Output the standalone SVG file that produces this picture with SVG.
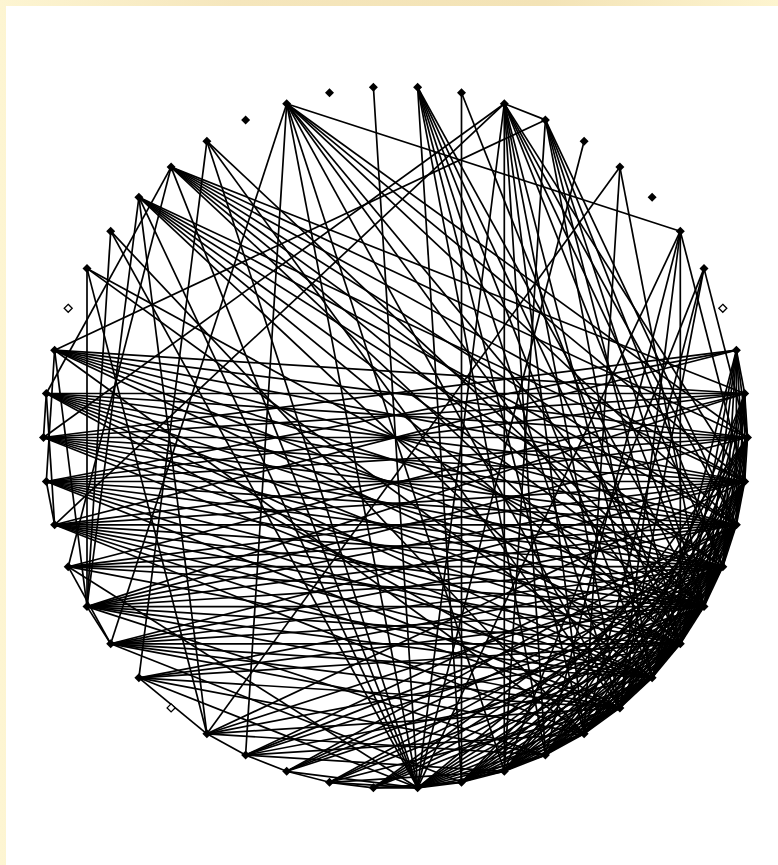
<svg xmlns="http://www.w3.org/2000/svg" width="778" height="865" viewBox="0 0 778 865">
<defs>
<linearGradient id="bg" x1="0" y1="0" x2="1" y2="0">
<stop offset="0" stop-color="#fdf5d2"/>
<stop offset="0.3" stop-color="#f5e6bc"/>
<stop offset="0.7" stop-color="#f3e3b6"/>
<stop offset="1" stop-color="#fdf4cf"/>
</linearGradient>
<style>
#edges line{stroke:#000;stroke-width:1.7;fill:none}
.d{fill:#000}
.h{fill:#fff;stroke:#000;stroke-width:1.3}
</style>
</defs>
<rect width="778" height="865" fill="url(#bg)"/>
<rect x="6" y="6" width="772" height="859" fill="#fff"/>
<g id="edges">
<line x1="373.4" y1="87.2" x2="417.6" y2="787.8"/>
<line x1="286.7" y1="103.7" x2="680.3" y2="231.2"/>
<line x1="286.7" y1="103.7" x2="747.5" y2="437.5"/>
<line x1="286.7" y1="103.7" x2="680.3" y2="643.8"/>
<line x1="286.7" y1="103.7" x2="504.3" y2="771.3"/>
<line x1="286.7" y1="103.7" x2="417.6" y2="787.8"/>
<line x1="286.7" y1="103.7" x2="245.6" y2="755.1"/>
<line x1="286.7" y1="103.7" x2="110.7" y2="643.8"/>
<line x1="286.7" y1="103.7" x2="736.4" y2="524.8"/>
<line x1="286.7" y1="103.7" x2="744.7" y2="481.5"/>
<line x1="286.7" y1="103.7" x2="704.0" y2="606.6"/>
<line x1="286.7" y1="103.7" x2="619.9" y2="707.9"/>
<line x1="417.6" y1="87.2" x2="704.0" y2="606.6"/>
<line x1="417.6" y1="87.2" x2="680.3" y2="643.8"/>
<line x1="417.6" y1="87.2" x2="652.1" y2="677.8"/>
<line x1="417.6" y1="87.2" x2="619.9" y2="707.9"/>
<line x1="417.6" y1="87.2" x2="584.1" y2="733.8"/>
<line x1="417.6" y1="87.2" x2="545.4" y2="755.1"/>
<line x1="417.6" y1="87.2" x2="461.5" y2="782.3"/>
<line x1="461.5" y1="92.7" x2="680.3" y2="643.8"/>
<line x1="461.5" y1="92.7" x2="461.5" y2="782.3"/>
<line x1="504.3" y1="103.7" x2="545.4" y2="119.9"/>
<line x1="504.3" y1="103.7" x2="744.7" y2="481.5"/>
<line x1="504.3" y1="103.7" x2="736.4" y2="524.8"/>
<line x1="504.3" y1="103.7" x2="722.8" y2="566.7"/>
<line x1="504.3" y1="103.7" x2="704.0" y2="606.6"/>
<line x1="504.3" y1="103.7" x2="652.1" y2="677.8"/>
<line x1="504.3" y1="103.7" x2="619.9" y2="707.9"/>
<line x1="504.3" y1="103.7" x2="584.1" y2="733.8"/>
<line x1="504.3" y1="103.7" x2="545.4" y2="755.1"/>
<line x1="504.3" y1="103.7" x2="504.3" y2="771.3"/>
<line x1="504.3" y1="103.7" x2="417.6" y2="787.8"/>
<line x1="504.3" y1="103.7" x2="54.6" y2="524.8"/>
<line x1="504.3" y1="103.7" x2="43.5" y2="437.5"/>
<line x1="545.4" y1="119.9" x2="736.4" y2="524.8"/>
<line x1="545.4" y1="119.9" x2="722.8" y2="566.7"/>
<line x1="545.4" y1="119.9" x2="704.0" y2="606.6"/>
<line x1="545.4" y1="119.9" x2="680.3" y2="643.8"/>
<line x1="545.4" y1="119.9" x2="652.1" y2="677.8"/>
<line x1="545.4" y1="119.9" x2="504.3" y2="771.3"/>
<line x1="545.4" y1="119.9" x2="54.6" y2="350.2"/>
<line x1="584.1" y1="141.2" x2="417.6" y2="787.8"/>
<line x1="619.9" y1="167.1" x2="704.0" y2="606.6"/>
<line x1="619.9" y1="167.1" x2="206.9" y2="733.8"/>
<line x1="619.9" y1="167.1" x2="584.1" y2="733.8"/>
<line x1="680.3" y1="231.2" x2="744.7" y2="481.5"/>
<line x1="680.3" y1="231.2" x2="680.3" y2="643.8"/>
<line x1="680.3" y1="231.2" x2="619.9" y2="707.9"/>
<line x1="680.3" y1="231.2" x2="545.4" y2="755.1"/>
<line x1="680.3" y1="231.2" x2="417.6" y2="787.8"/>
<line x1="704.0" y1="268.4" x2="747.5" y2="437.5"/>
<line x1="704.0" y1="268.4" x2="619.9" y2="707.9"/>
<line x1="704.0" y1="268.4" x2="584.1" y2="733.8"/>
<line x1="704.0" y1="268.4" x2="504.3" y2="771.3"/>
<line x1="736.4" y1="350.2" x2="744.7" y2="393.5"/>
<line x1="736.4" y1="350.2" x2="747.5" y2="437.5"/>
<line x1="736.4" y1="350.2" x2="744.7" y2="481.5"/>
<line x1="736.4" y1="350.2" x2="736.4" y2="524.8"/>
<line x1="736.4" y1="350.2" x2="722.8" y2="566.7"/>
<line x1="736.4" y1="350.2" x2="680.3" y2="643.8"/>
<line x1="736.4" y1="350.2" x2="652.1" y2="677.8"/>
<line x1="736.4" y1="350.2" x2="704.0" y2="606.6"/>
<line x1="736.4" y1="350.2" x2="54.6" y2="524.8"/>
<line x1="736.4" y1="350.2" x2="43.5" y2="437.5"/>
<line x1="736.4" y1="350.2" x2="46.3" y2="481.5"/>
<line x1="744.7" y1="393.5" x2="747.5" y2="437.5"/>
<line x1="744.7" y1="393.5" x2="46.3" y2="393.5"/>
<line x1="744.7" y1="393.5" x2="171.1" y2="167.1"/>
<line x1="744.7" y1="393.5" x2="43.5" y2="437.5"/>
<line x1="744.7" y1="393.5" x2="744.7" y2="481.5"/>
<line x1="744.7" y1="393.5" x2="736.4" y2="524.8"/>
<line x1="744.7" y1="393.5" x2="722.8" y2="566.7"/>
<line x1="744.7" y1="393.5" x2="704.0" y2="606.6"/>
<line x1="744.7" y1="393.5" x2="680.3" y2="643.8"/>
<line x1="744.7" y1="393.5" x2="652.1" y2="677.8"/>
<line x1="744.7" y1="393.5" x2="619.9" y2="707.9"/>
<line x1="744.7" y1="393.5" x2="68.2" y2="566.7"/>
<line x1="744.7" y1="393.5" x2="87.0" y2="606.6"/>
<line x1="206.9" y1="141.2" x2="138.9" y2="677.8"/>
<line x1="206.9" y1="141.2" x2="704.0" y2="606.6"/>
<line x1="206.9" y1="141.2" x2="619.9" y2="707.9"/>
<line x1="206.9" y1="141.2" x2="417.6" y2="787.8"/>
<line x1="171.1" y1="167.1" x2="747.5" y2="437.5"/>
<line x1="171.1" y1="167.1" x2="744.7" y2="481.5"/>
<line x1="171.1" y1="167.1" x2="736.4" y2="524.8"/>
<line x1="171.1" y1="167.1" x2="722.8" y2="566.7"/>
<line x1="171.1" y1="167.1" x2="704.0" y2="606.6"/>
<line x1="171.1" y1="167.1" x2="680.3" y2="643.8"/>
<line x1="171.1" y1="167.1" x2="68.2" y2="566.7"/>
<line x1="171.1" y1="167.1" x2="417.6" y2="787.8"/>
<line x1="138.9" y1="197.2" x2="744.7" y2="481.5"/>
<line x1="138.9" y1="197.2" x2="736.4" y2="524.8"/>
<line x1="138.9" y1="197.2" x2="722.8" y2="566.7"/>
<line x1="138.9" y1="197.2" x2="704.0" y2="606.6"/>
<line x1="138.9" y1="197.2" x2="680.3" y2="643.8"/>
<line x1="138.9" y1="197.2" x2="652.1" y2="677.8"/>
<line x1="138.9" y1="197.2" x2="206.9" y2="733.8"/>
<line x1="138.9" y1="197.2" x2="87.0" y2="606.6"/>
<line x1="138.9" y1="197.2" x2="417.6" y2="787.8"/>
<line x1="110.7" y1="231.2" x2="417.6" y2="787.8"/>
<line x1="110.7" y1="231.2" x2="584.1" y2="733.8"/>
<line x1="110.7" y1="231.2" x2="87.0" y2="606.6"/>
<line x1="87.0" y1="268.4" x2="704.0" y2="606.6"/>
<line x1="87.0" y1="268.4" x2="652.1" y2="677.8"/>
<line x1="87.0" y1="268.4" x2="87.0" y2="606.6"/>
<line x1="87.0" y1="268.4" x2="206.9" y2="733.8"/>
<line x1="54.6" y1="350.2" x2="744.7" y2="393.5"/>
<line x1="54.6" y1="350.2" x2="747.5" y2="437.5"/>
<line x1="54.6" y1="350.2" x2="744.7" y2="481.5"/>
<line x1="54.6" y1="350.2" x2="736.4" y2="524.8"/>
<line x1="54.6" y1="350.2" x2="722.8" y2="566.7"/>
<line x1="54.6" y1="350.2" x2="704.0" y2="606.6"/>
<line x1="54.6" y1="350.2" x2="680.3" y2="643.8"/>
<line x1="54.6" y1="350.2" x2="87.0" y2="606.6"/>
<line x1="54.6" y1="350.2" x2="584.1" y2="733.8"/>
<line x1="54.6" y1="350.2" x2="46.3" y2="481.5"/>
<line x1="46.3" y1="393.5" x2="747.5" y2="437.5"/>
<line x1="46.3" y1="393.5" x2="744.7" y2="481.5"/>
<line x1="46.3" y1="393.5" x2="736.4" y2="524.8"/>
<line x1="46.3" y1="393.5" x2="722.8" y2="566.7"/>
<line x1="46.3" y1="393.5" x2="704.0" y2="606.6"/>
<line x1="46.3" y1="393.5" x2="680.3" y2="643.8"/>
<line x1="46.3" y1="393.5" x2="652.1" y2="677.8"/>
<line x1="46.3" y1="393.5" x2="619.9" y2="707.9"/>
<line x1="46.3" y1="393.5" x2="54.6" y2="524.8"/>
<line x1="46.3" y1="393.5" x2="171.1" y2="167.1"/>
<line x1="43.5" y1="437.5" x2="747.5" y2="437.5"/>
<line x1="43.5" y1="437.5" x2="744.7" y2="481.5"/>
<line x1="43.5" y1="437.5" x2="736.4" y2="524.8"/>
<line x1="43.5" y1="437.5" x2="722.8" y2="566.7"/>
<line x1="43.5" y1="437.5" x2="704.0" y2="606.6"/>
<line x1="43.5" y1="437.5" x2="680.3" y2="643.8"/>
<line x1="43.5" y1="437.5" x2="652.1" y2="677.8"/>
<line x1="43.5" y1="437.5" x2="46.3" y2="393.5"/>
<line x1="46.3" y1="481.5" x2="744.7" y2="393.5"/>
<line x1="46.3" y1="481.5" x2="747.5" y2="437.5"/>
<line x1="46.3" y1="481.5" x2="744.7" y2="481.5"/>
<line x1="46.3" y1="481.5" x2="736.4" y2="524.8"/>
<line x1="46.3" y1="481.5" x2="722.8" y2="566.7"/>
<line x1="46.3" y1="481.5" x2="704.0" y2="606.6"/>
<line x1="46.3" y1="481.5" x2="680.3" y2="643.8"/>
<line x1="46.3" y1="481.5" x2="652.1" y2="677.8"/>
<line x1="46.3" y1="481.5" x2="619.9" y2="707.9"/>
<line x1="46.3" y1="481.5" x2="54.6" y2="524.8"/>
<line x1="54.6" y1="524.8" x2="747.5" y2="437.5"/>
<line x1="54.6" y1="524.8" x2="744.7" y2="481.5"/>
<line x1="54.6" y1="524.8" x2="736.4" y2="524.8"/>
<line x1="54.6" y1="524.8" x2="722.8" y2="566.7"/>
<line x1="54.6" y1="524.8" x2="704.0" y2="606.6"/>
<line x1="54.6" y1="524.8" x2="680.3" y2="643.8"/>
<line x1="54.6" y1="524.8" x2="652.1" y2="677.8"/>
<line x1="54.6" y1="524.8" x2="619.9" y2="707.9"/>
<line x1="54.6" y1="524.8" x2="584.1" y2="733.8"/>
<line x1="68.2" y1="566.7" x2="744.7" y2="481.5"/>
<line x1="68.2" y1="566.7" x2="736.4" y2="524.8"/>
<line x1="68.2" y1="566.7" x2="722.8" y2="566.7"/>
<line x1="68.2" y1="566.7" x2="704.0" y2="606.6"/>
<line x1="68.2" y1="566.7" x2="652.1" y2="677.8"/>
<line x1="68.2" y1="566.7" x2="417.6" y2="787.8"/>
<line x1="87.0" y1="606.6" x2="747.5" y2="437.5"/>
<line x1="87.0" y1="606.6" x2="744.7" y2="481.5"/>
<line x1="87.0" y1="606.6" x2="736.4" y2="524.8"/>
<line x1="87.0" y1="606.6" x2="722.8" y2="566.7"/>
<line x1="87.0" y1="606.6" x2="704.0" y2="606.6"/>
<line x1="87.0" y1="606.6" x2="680.3" y2="643.8"/>
<line x1="87.0" y1="606.6" x2="652.1" y2="677.8"/>
<line x1="87.0" y1="606.6" x2="619.9" y2="707.9"/>
<line x1="87.0" y1="606.6" x2="545.4" y2="755.1"/>
<line x1="110.7" y1="643.8" x2="744.7" y2="481.5"/>
<line x1="110.7" y1="643.8" x2="736.4" y2="524.8"/>
<line x1="110.7" y1="643.8" x2="722.8" y2="566.7"/>
<line x1="110.7" y1="643.8" x2="704.0" y2="606.6"/>
<line x1="110.7" y1="643.8" x2="680.3" y2="643.8"/>
<line x1="110.7" y1="643.8" x2="652.1" y2="677.8"/>
<line x1="110.7" y1="643.8" x2="619.9" y2="707.9"/>
<line x1="110.7" y1="643.8" x2="584.1" y2="733.8"/>
<line x1="110.7" y1="643.8" x2="461.5" y2="782.3"/>
<line x1="110.7" y1="643.8" x2="68.2" y2="566.7"/>
<line x1="110.7" y1="643.8" x2="87.0" y2="606.6"/>
<line x1="138.9" y1="677.8" x2="206.9" y2="733.8"/>
<line x1="138.9" y1="677.8" x2="417.6" y2="787.8"/>
<line x1="138.9" y1="677.8" x2="722.8" y2="566.7"/>
<line x1="138.9" y1="677.8" x2="704.0" y2="606.6"/>
<line x1="138.9" y1="677.8" x2="680.3" y2="643.8"/>
<line x1="138.9" y1="677.8" x2="619.9" y2="707.9"/>
<line x1="138.9" y1="677.8" x2="545.4" y2="755.1"/>
<line x1="206.9" y1="733.8" x2="744.7" y2="481.5"/>
<line x1="206.9" y1="733.8" x2="722.8" y2="566.7"/>
<line x1="206.9" y1="733.8" x2="680.3" y2="643.8"/>
<line x1="206.9" y1="733.8" x2="619.9" y2="707.9"/>
<line x1="206.9" y1="733.8" x2="245.6" y2="755.1"/>
<line x1="206.9" y1="733.8" x2="545.4" y2="755.1"/>
<line x1="245.6" y1="755.1" x2="736.4" y2="524.8"/>
<line x1="245.6" y1="755.1" x2="722.8" y2="566.7"/>
<line x1="245.6" y1="755.1" x2="704.0" y2="606.6"/>
<line x1="245.6" y1="755.1" x2="652.1" y2="677.8"/>
<line x1="245.6" y1="755.1" x2="584.1" y2="733.8"/>
<line x1="245.6" y1="755.1" x2="286.7" y2="771.3"/>
<line x1="245.6" y1="755.1" x2="504.3" y2="771.3"/>
<line x1="286.7" y1="771.3" x2="736.4" y2="524.8"/>
<line x1="286.7" y1="771.3" x2="722.8" y2="566.7"/>
<line x1="286.7" y1="771.3" x2="704.0" y2="606.6"/>
<line x1="286.7" y1="771.3" x2="680.3" y2="643.8"/>
<line x1="286.7" y1="771.3" x2="417.6" y2="787.8"/>
<line x1="286.7" y1="771.3" x2="329.5" y2="782.3"/>
<line x1="329.5" y1="782.3" x2="722.8" y2="566.7"/>
<line x1="329.5" y1="782.3" x2="704.0" y2="606.6"/>
<line x1="329.5" y1="782.3" x2="680.3" y2="643.8"/>
<line x1="329.5" y1="782.3" x2="619.9" y2="707.9"/>
<line x1="329.5" y1="782.3" x2="417.6" y2="787.8"/>
<line x1="329.5" y1="782.3" x2="373.4" y2="787.8"/>
<line x1="329.5" y1="782.3" x2="504.3" y2="771.3"/>
<line x1="373.4" y1="787.8" x2="417.6" y2="787.8"/>
<line x1="373.4" y1="787.8" x2="461.5" y2="782.3"/>
<line x1="373.4" y1="787.8" x2="736.4" y2="524.8"/>
<line x1="373.4" y1="787.8" x2="722.8" y2="566.7"/>
<line x1="373.4" y1="787.8" x2="704.0" y2="606.6"/>
<line x1="373.4" y1="787.8" x2="680.3" y2="643.8"/>
<line x1="373.4" y1="787.8" x2="652.1" y2="677.8"/>
<line x1="461.5" y1="782.3" x2="744.7" y2="481.5"/>
<line x1="461.5" y1="782.3" x2="736.4" y2="524.8"/>
<line x1="504.3" y1="771.3" x2="744.7" y2="481.5"/>
<line x1="504.3" y1="771.3" x2="747.5" y2="437.5"/>
<line x1="545.4" y1="755.1" x2="747.5" y2="437.5"/>
<line x1="417.6" y1="787.8" x2="736.4" y2="524.8"/>
<line x1="417.6" y1="787.8" x2="722.8" y2="566.7"/>
<line x1="747.5" y1="437.5" x2="744.7" y2="481.5"/>
<line x1="747.5" y1="437.5" x2="736.4" y2="524.8"/>
<line x1="747.5" y1="437.5" x2="722.8" y2="566.7"/>
<line x1="747.5" y1="437.5" x2="704.0" y2="606.6"/>
<line x1="747.5" y1="437.5" x2="680.3" y2="643.8"/>
<line x1="747.5" y1="437.5" x2="652.1" y2="677.8"/>
<line x1="747.5" y1="437.5" x2="619.9" y2="707.9"/>
<line x1="747.5" y1="437.5" x2="584.1" y2="733.8"/>
<line x1="744.7" y1="481.5" x2="736.4" y2="524.8"/>
<line x1="744.7" y1="481.5" x2="722.8" y2="566.7"/>
<line x1="744.7" y1="481.5" x2="704.0" y2="606.6"/>
<line x1="744.7" y1="481.5" x2="680.3" y2="643.8"/>
<line x1="744.7" y1="481.5" x2="652.1" y2="677.8"/>
<line x1="744.7" y1="481.5" x2="619.9" y2="707.9"/>
<line x1="744.7" y1="481.5" x2="584.1" y2="733.8"/>
<line x1="744.7" y1="481.5" x2="545.4" y2="755.1"/>
<line x1="736.4" y1="524.8" x2="722.8" y2="566.7"/>
<line x1="736.4" y1="524.8" x2="704.0" y2="606.6"/>
<line x1="736.4" y1="524.8" x2="680.3" y2="643.8"/>
<line x1="736.4" y1="524.8" x2="652.1" y2="677.8"/>
<line x1="736.4" y1="524.8" x2="619.9" y2="707.9"/>
<line x1="736.4" y1="524.8" x2="584.1" y2="733.8"/>
<line x1="736.4" y1="524.8" x2="545.4" y2="755.1"/>
<line x1="736.4" y1="524.8" x2="504.3" y2="771.3"/>
<line x1="722.8" y1="566.7" x2="704.0" y2="606.6"/>
<line x1="722.8" y1="566.7" x2="680.3" y2="643.8"/>
<line x1="722.8" y1="566.7" x2="652.1" y2="677.8"/>
<line x1="722.8" y1="566.7" x2="619.9" y2="707.9"/>
<line x1="722.8" y1="566.7" x2="584.1" y2="733.8"/>
<line x1="722.8" y1="566.7" x2="545.4" y2="755.1"/>
<line x1="722.8" y1="566.7" x2="504.3" y2="771.3"/>
<line x1="722.8" y1="566.7" x2="461.5" y2="782.3"/>
<line x1="704.0" y1="606.6" x2="680.3" y2="643.8"/>
<line x1="704.0" y1="606.6" x2="652.1" y2="677.8"/>
<line x1="704.0" y1="606.6" x2="619.9" y2="707.9"/>
<line x1="704.0" y1="606.6" x2="584.1" y2="733.8"/>
<line x1="704.0" y1="606.6" x2="545.4" y2="755.1"/>
<line x1="704.0" y1="606.6" x2="504.3" y2="771.3"/>
<line x1="704.0" y1="606.6" x2="461.5" y2="782.3"/>
<line x1="704.0" y1="606.6" x2="417.6" y2="787.8"/>
<line x1="680.3" y1="643.8" x2="652.1" y2="677.8"/>
<line x1="680.3" y1="643.8" x2="619.9" y2="707.9"/>
<line x1="680.3" y1="643.8" x2="584.1" y2="733.8"/>
<line x1="680.3" y1="643.8" x2="545.4" y2="755.1"/>
<line x1="680.3" y1="643.8" x2="504.3" y2="771.3"/>
<line x1="680.3" y1="643.8" x2="461.5" y2="782.3"/>
<line x1="680.3" y1="643.8" x2="417.6" y2="787.8"/>
<line x1="652.1" y1="677.8" x2="619.9" y2="707.9"/>
<line x1="652.1" y1="677.8" x2="584.1" y2="733.8"/>
<line x1="652.1" y1="677.8" x2="545.4" y2="755.1"/>
<line x1="652.1" y1="677.8" x2="504.3" y2="771.3"/>
<line x1="652.1" y1="677.8" x2="461.5" y2="782.3"/>
<line x1="652.1" y1="677.8" x2="417.6" y2="787.8"/>
<line x1="619.9" y1="707.9" x2="584.1" y2="733.8"/>
<line x1="619.9" y1="707.9" x2="545.4" y2="755.1"/>
<line x1="619.9" y1="707.9" x2="504.3" y2="771.3"/>
<line x1="619.9" y1="707.9" x2="461.5" y2="782.3"/>
<line x1="619.9" y1="707.9" x2="417.6" y2="787.8"/>
<line x1="584.1" y1="733.8" x2="545.4" y2="755.1"/>
<line x1="584.1" y1="733.8" x2="504.3" y2="771.3"/>
<line x1="584.1" y1="733.8" x2="461.5" y2="782.3"/>
<line x1="584.1" y1="733.8" x2="417.6" y2="787.8"/>
<line x1="545.4" y1="755.1" x2="504.3" y2="771.3"/>
<line x1="545.4" y1="755.1" x2="461.5" y2="782.3"/>
<line x1="545.4" y1="755.1" x2="417.6" y2="787.8"/>
<line x1="504.3" y1="771.3" x2="461.5" y2="782.3"/>
<line x1="504.3" y1="771.3" x2="417.6" y2="787.8"/>
<line x1="461.5" y1="782.3" x2="417.6" y2="787.8"/>
</g>
<g id="nodes">
<g id="n0"><path class="d" d="M417.6 82.7l4.5 4.5-4.5 4.5-4.5-4.5z"/></g>
<g id="n1"><path class="d" d="M461.5 88.2l4.5 4.5-4.5 4.5-4.5-4.5z"/></g>
<g id="n2"><path class="d" d="M504.3 99.2l4.5 4.5-4.5 4.5-4.5-4.5z"/></g>
<g id="n3"><path class="d" d="M545.4 115.4l4.5 4.5-4.5 4.5-4.5-4.5z"/></g>
<g id="n4"><path class="d" d="M584.1 136.7l4.5 4.5-4.5 4.5-4.5-4.5z"/></g>
<g id="n5"><path class="d" d="M619.9 162.6l4.5 4.5-4.5 4.5-4.5-4.5z"/></g>
<g id="n6"><path class="d" d="M652.1 192.7l4.5 4.5-4.5 4.5-4.5-4.5z"/></g>
<g id="n7"><path class="d" d="M680.3 226.7l4.5 4.5-4.5 4.5-4.5-4.5z"/></g>
<g id="n8"><path class="d" d="M704.0 263.9l4.5 4.5-4.5 4.5-4.5-4.5z"/></g>
<g id="n9"><path class="h" d="M722.8 304.3l4 4-4 4-4-4z"/></g>
<g id="n10"><path class="d" d="M736.4 345.7l4.5 4.5-4.5 4.5-4.5-4.5z"/></g>
<g id="n11"><path class="d" d="M744.7 389.0l4.5 4.5-4.5 4.5-4.5-4.5z"/></g>
<g id="n12"><path class="d" d="M747.5 433.0l4.5 4.5-4.5 4.5-4.5-4.5z"/></g>
<g id="n13"><path class="d" d="M744.7 477.0l4.5 4.5-4.5 4.5-4.5-4.5z"/></g>
<g id="n14"><path class="d" d="M736.4 520.3l4.5 4.5-4.5 4.5-4.5-4.5z"/></g>
<g id="n15"><path class="d" d="M722.8 562.2l4.5 4.5-4.5 4.5-4.5-4.5z"/></g>
<g id="n16"><path class="d" d="M704.0 602.1l4.5 4.5-4.5 4.5-4.5-4.5z"/></g>
<g id="n17"><path class="d" d="M680.3 639.3l4.5 4.5-4.5 4.5-4.5-4.5z"/></g>
<g id="n18"><path class="d" d="M652.1 673.3l4.5 4.5-4.5 4.5-4.5-4.5z"/></g>
<g id="n19"><path class="d" d="M619.9 703.4l4.5 4.5-4.5 4.5-4.5-4.5z"/></g>
<g id="n20"><path class="d" d="M584.1 729.3l4.5 4.5-4.5 4.5-4.5-4.5z"/></g>
<g id="n21"><path class="d" d="M545.4 750.6l4.5 4.5-4.5 4.5-4.5-4.5z"/></g>
<g id="n22"><path class="d" d="M504.3 766.8l4.5 4.5-4.5 4.5-4.5-4.5z"/></g>
<g id="n23"><path class="d" d="M461.5 777.8l4.5 4.5-4.5 4.5-4.5-4.5z"/></g>
<g id="n24"><path class="d" d="M417.6 783.3l4.5 4.5-4.5 4.5-4.5-4.5z"/></g>
<g id="n25"><path class="d" d="M373.4 783.3l4.5 4.5-4.5 4.5-4.5-4.5z"/></g>
<g id="n26"><path class="d" d="M329.5 777.8l4.5 4.5-4.5 4.5-4.5-4.5z"/></g>
<g id="n27"><path class="d" d="M286.7 766.8l4.5 4.5-4.5 4.5-4.5-4.5z"/></g>
<g id="n28"><path class="d" d="M245.6 750.6l4.5 4.5-4.5 4.5-4.5-4.5z"/></g>
<g id="n29"><path class="d" d="M206.9 729.3l4.5 4.5-4.5 4.5-4.5-4.5z"/></g>
<g id="n30"><path class="h" d="M171.1 703.9l4 4-4 4-4-4z"/></g>
<g id="n31"><path class="d" d="M138.9 673.3l4.5 4.5-4.5 4.5-4.5-4.5z"/></g>
<g id="n32"><path class="d" d="M110.7 639.3l4.5 4.5-4.5 4.5-4.5-4.5z"/></g>
<g id="n33"><path class="d" d="M87.0 602.1l4.5 4.5-4.5 4.5-4.5-4.5z"/></g>
<g id="n34"><path class="d" d="M68.2 562.2l4.5 4.5-4.5 4.5-4.5-4.5z"/></g>
<g id="n35"><path class="d" d="M54.6 520.3l4.5 4.5-4.5 4.5-4.5-4.5z"/></g>
<g id="n36"><path class="d" d="M46.3 477.0l4.5 4.5-4.5 4.5-4.5-4.5z"/></g>
<g id="n37"><path class="d" d="M43.5 433.0l4.5 4.5-4.5 4.5-4.5-4.5z"/></g>
<g id="n38"><path class="d" d="M46.3 389.0l4.5 4.5-4.5 4.5-4.5-4.5z"/></g>
<g id="n39"><path class="d" d="M54.6 345.7l4.5 4.5-4.5 4.5-4.5-4.5z"/></g>
<g id="n40"><path class="h" d="M68.2 304.3l4 4-4 4-4-4z"/></g>
<g id="n41"><path class="d" d="M87.0 263.9l4.5 4.5-4.5 4.5-4.5-4.5z"/></g>
<g id="n42"><path class="d" d="M110.7 226.7l4.5 4.5-4.5 4.5-4.5-4.5z"/></g>
<g id="n43"><path class="d" d="M138.9 192.7l4.5 4.5-4.5 4.5-4.5-4.5z"/></g>
<g id="n44"><path class="d" d="M171.1 162.6l4.5 4.5-4.5 4.5-4.5-4.5z"/></g>
<g id="n45"><path class="d" d="M206.9 136.7l4.5 4.5-4.5 4.5-4.5-4.5z"/></g>
<g id="n46"><path class="d" d="M245.6 115.4l4.5 4.5-4.5 4.5-4.5-4.5z"/></g>
<g id="n47"><path class="d" d="M286.7 99.2l4.5 4.5-4.5 4.5-4.5-4.5z"/></g>
<g id="n48"><path class="d" d="M329.5 88.2l4.5 4.5-4.5 4.5-4.5-4.5z"/></g>
<g id="n49"><path class="d" d="M373.4 82.7l4.5 4.5-4.5 4.5-4.5-4.5z"/></g>
</g>
</svg>
